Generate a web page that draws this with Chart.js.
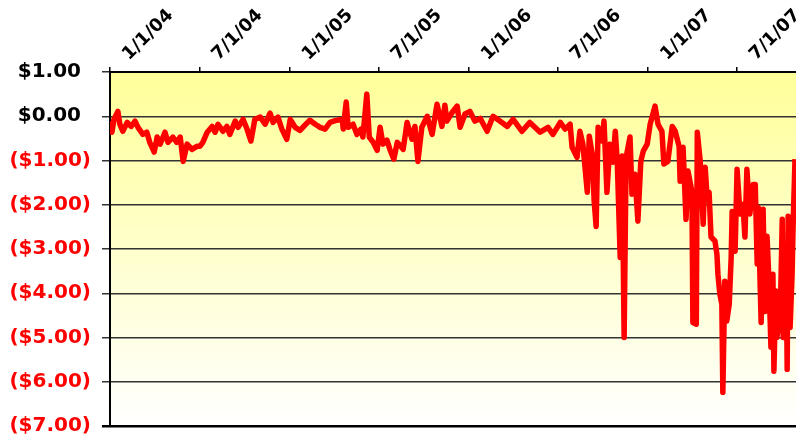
<!DOCTYPE html>
<html>
<head>
<meta charset="utf-8">
<script src="https://cdn.jsdelivr.net/npm/chart.js"></script>
<style>
  html, body { margin: 0; padding: 0; background: #fff; }
  #wrap { width: 796px; height: 440px; }
</style>
</head>
<body>
<div id="wrap"><canvas id="spreadChart" width="796" height="440"></canvas></div>
<script>
// ==========================
// DATA
// ==========================
const dates = [
  "2004-01-01","2004-01-05","2004-01-09","2004-01-17","2004-01-21","2004-01-27",
  "2004-02-05","2004-02-13","2004-02-21","2004-02-27","2004-03-08","2004-03-16",
  "2004-03-22","2004-03-31","2004-04-06","2004-04-12","2004-04-22","2004-04-28",
  "2004-05-08","2004-05-16","2004-05-23","2004-05-29","2004-06-06","2004-06-16",
  "2004-06-26","2004-07-02","2004-07-08","2004-07-17","2004-07-27","2004-08-02",
  "2004-08-08","2004-08-18","2004-08-26","2004-09-01","2004-09-12","2004-09-18",
  "2004-09-28","2004-10-06","2004-10-14","2004-10-22","2004-11-02","2004-11-12",
  "2004-11-22","2004-11-28","2004-12-08","2004-12-16","2004-12-26","2005-01-02",
  "2005-01-12","2005-01-22","2005-02-01","2005-02-11","2005-02-22","2005-03-04",
  "2005-03-14","2005-03-24","2005-04-07","2005-04-18","2005-04-20","2005-04-26",
  "2005-04-30","2005-05-10","2005-05-18","2005-05-26","2005-05-30","2005-06-07",
  "2005-06-12","2005-06-20","2005-06-28","2005-07-04","2005-07-10","2005-07-18",
  "2005-07-24","2005-08-01","2005-08-08","2005-08-14","2005-08-20","2005-08-28",
  "2005-09-07","2005-09-13","2005-09-19","2005-09-27","2005-10-08","2005-10-18",
  "2005-10-28","2005-11-07","2005-11-13","2005-11-17","2005-11-28","2005-12-08",
  "2005-12-14","2005-12-24","2006-01-03","2006-01-13","2006-01-24","2006-02-07",
  "2006-02-19","2006-03-05","2006-03-20","2006-04-01","2006-04-19","2006-05-05",
  "2006-05-26","2006-06-11","2006-06-21","2006-07-06","2006-07-16","2006-07-26",
  "2006-07-30","2006-08-09","2006-08-15","2006-08-21","2006-08-30","2006-09-03",
  "2006-09-09","2006-09-13","2006-09-17","2006-09-21","2006-09-29","2006-10-03",
  "2006-10-09","2006-10-15","2006-10-21","2006-10-26","2006-10-30","2006-11-05",
  "2006-11-09","2006-11-13","2006-11-17","2006-11-25","2006-11-29","2006-12-05",
  "2006-12-11","2006-12-17","2006-12-22","2006-12-30","2007-01-05","2007-01-15",
  "2007-01-21","2007-01-29","2007-02-02","2007-02-10","2007-02-19","2007-02-25",
  "2007-03-05","2007-03-07","2007-03-13","2007-03-19","2007-03-23","2007-03-31",
  "2007-04-02","2007-04-09","2007-04-11","2007-04-17","2007-04-23","2007-04-27",
  "2007-05-01","2007-05-05","2007-05-09","2007-05-17","2007-05-21","2007-05-23",
  "2007-05-27","2007-05-31","2007-06-02","2007-06-06","2007-06-10","2007-06-15",
  "2007-06-19","2007-06-21","2007-06-27","2007-07-01","2007-07-07","2007-07-13",
  "2007-07-17","2007-07-21","2007-07-27","2007-08-03","2007-08-07","2007-08-11",
  "2007-08-13","2007-08-19","2007-08-23","2007-08-27","2007-08-31","2007-09-04",
  "2007-09-08","2007-09-12","2007-09-14","2007-09-18","2007-09-20","2007-09-27",
  "2007-10-01","2007-10-03","2007-10-09","2007-10-11","2007-10-13","2007-10-17",
  "2007-10-21","2007-10-23","2007-10-27"
];

const values = [
  -0.11,-0.36,-0.07, 0.11,-0.18,-0.34,
  -0.14,-0.23,-0.11,-0.25,-0.41,-0.36,
  -0.59,-0.81,-0.47,-0.63,-0.36,-0.59,
  -0.47,-0.59,-0.47,-1.02,-0.63,-0.75,
  -0.68,-0.68,-0.59,-0.36,-0.23,-0.36,
  -0.18,-0.34,-0.23,-0.41,-0.11,-0.25,
  -0.07,-0.29,-0.56,-0.07,-0.02,-0.18,
   0.07,-0.14,-0.02,-0.29,-0.52,-0.07,
  -0.25,-0.32,-0.20,-0.09,-0.18,-0.25,
  -0.29,-0.14,-0.09,-0.07,-0.29, 0.32,
  -0.25,-0.18,-0.41,-0.29,-0.47, 0.50,
  -0.47,-0.59,-0.77,-0.25,-0.63,-0.54,
  -0.75,-0.97,-0.59,-0.66,-0.75,-0.14,
  -0.52,-0.23,-1.02,-0.25, 0.00,-0.41,
   0.27,-0.23, 0.25,-0.11, 0.09, 0.23,
  -0.25, 0.05, 0.11,-0.11,-0.05,-0.34,
   0.00,-0.11,-0.23,-0.07,-0.34,-0.14,
  -0.36,-0.25,-0.41,-0.14,-0.29,-0.18,
  -0.70,-0.93,-0.34,-0.63,-1.72,-0.45,
  -0.86,-1.92,-2.49,-0.25,-0.56,-0.11,
  -1.72,-0.63,-1.04,-0.34,-1.02,-3.19,
  -0.90,-5.00,-0.93,-0.47,-1.76,-1.31,
  -2.37,-1.02,-0.79,-0.63,-0.18, 0.23,
  -0.18,-0.34,-1.08,-1.02,-0.23,-0.34,
  -0.68,-1.47,-0.70,-2.33,-1.24,-1.70,
  -4.66,-4.70,-0.36,-1.02,-2.44,-1.15,
  -1.83,-1.72,-2.73,-2.82,-3.12,-3.57,
  -4.02,-4.25,-6.24,-3.73,-4.63,-4.25,
  -3.19,-2.15,-3.05,-1.20,-2.21,-1.99,
  -2.73,-1.20,-2.21,-1.54,-1.54,-3.34,
  -2.06,-4.66,-2.10,-4.41,-2.71,-3.73,
  -5.22,-3.57,-5.76,-3.95,-5.00,-4.47,
  -2.33,-5.00,-3.05,-5.72,-2.26,-4.77,
  -3.57,-2.51,-0.97
];

// top axis ticks
const tickDates = ["2004-01-01","2004-07-01","2005-01-01","2005-07-01","2006-01-01","2006-07-01","2007-01-01","2007-07-01"];
const tickLabels = ["1/1/04","7/1/04","1/1/05","7/1/05","1/1/06","7/1/06","1/1/07","7/1/07"];
const axisEnd = "2007-10-29";

const yMin = -7;
const yMax = 1;

if (dates.length !== values.length) console.error("dates/values length mismatch", dates.length, values.length);

// days since 1/1/04
const DAY0 = Date.UTC(2004, 0, 1);
function toDay(s) {
  const p = s.split("-").map(Number);
  return Math.round((Date.UTC(p[0], p[1] - 1, p[2]) - DAY0) / 86400000);
}

const points = dates.map((d, i) => ({ x: toDay(d), y: values[i] }));
const tickDays = tickDates.map(toDay);

// ==========================
// BACKGROUND GRADIENT
// ==========================
const plotBg = {
  id: "plotBg",
  beforeDraw(chart) {
    const { ctx, chartArea: a } = chart;
    const g = ctx.createLinearGradient(0, a.top, 0, a.bottom);
    g.addColorStop(0, "#FFFF99");
    g.addColorStop(1, "#FFFFFF");
    ctx.save();
    ctx.fillStyle = g;
    ctx.fillRect(a.left, a.top, a.right - a.left, a.bottom - a.top);
    ctx.restore();
  }
};

new Chart(document.getElementById("spreadChart"), {
  type: "line",
  data: {
    datasets: [{
      data: points,
      borderColor: "#FF0000",
      borderWidth: 5.5,
      borderJoinStyle: "round",
      pointRadius: 0,
      tension: 0,
      fill: false
    }]
  },
  options: {
    responsive: false,
    animation: false,
    layout: { autoPadding: false, padding: { left: 0, right: 0, top: 0, bottom: 14 } },
    plugins: {
      legend: { display: false },
      tooltip: { enabled: false }
    },
    scales: {
      x: {
        type: "linear",
        position: "top",
        min: 0,
        max: toDay(axisEnd),
        afterFit(scale) {
          scale.height = 72;
          scale.paddingLeft = 0;
          scale.paddingRight = 0;
        },
        afterBuildTicks(scale) { scale.ticks = tickDays.map(v => ({ value: v })); },
        border: { display: true, color: "#000", width: 2 },
        grid: { drawOnChartArea: false, drawTicks: true, tickLength: 5, color: "#000", lineWidth: 1.5 },
        ticks: {
          autoSkip: false,
          minRotation: 45,
          maxRotation: 45,
          labelOffset: 31,
          padding: 2,
          color: "#000",
          font: { family: "'DejaVu Sans', Arial, sans-serif", size: 18, weight: "bold" },
          callback: (v) => {
            const i = tickDays.indexOf(v);
            return i >= 0 ? tickLabels[i] : "";
          }
        }
      },
      y: {
        min: yMin,
        max: yMax,
        afterFit(scale) {
          scale.width = 110;
          scale.paddingTop = 0;
          scale.paddingBottom = 0;
        },
        border: { display: true, color: "#000", width: 2 },
        grid: {
          color: (c) => (c.tick && c.tick.value === yMin ? "#000" : "#333"),
          lineWidth: (c) => (c.tick && c.tick.value === yMin ? 2.5 : 1.5),
          tickLength: 8
        },
        ticks: {
          stepSize: 1,
          padding: 11,
          color: (c) => (c.tick.value < 0 ? "#FF0000" : "#000"),
          font: { family: "'DejaVu Sans', Arial, sans-serif", size: 20, weight: "bold" },
          callback: (v) => v < 0
            ? "($" + (-v).toFixed(2) + ")"
            : "$" + v.toFixed(2) + "\u2002"
        }
      }
    }
  },
  plugins: [plotBg]
});
</script>
</body>
</html>
